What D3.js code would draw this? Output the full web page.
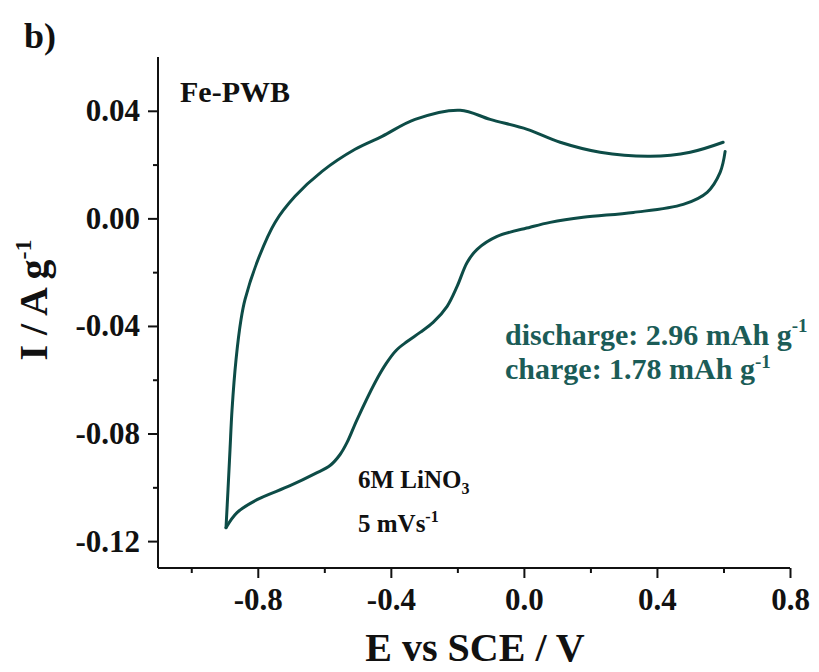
<!DOCTYPE html>
<html><head><meta charset="utf-8">
<script src="https://cdn.jsdelivr.net/npm/d3@7"></script>
<style>body{margin:0;background:#fff}svg{display:block}text{font-family:"Liberation Serif","Times New Roman",serif;font-weight:bold}</style>
</head><body><svg id="c" width="819" height="672"></svg>
<script>
// Forward (anodic) scan: potential E (V) and current I (A/g)
const fwdE = [-0.8955,-0.8895,-0.8835,-0.8774,-0.8654,-0.8504,-0.8383,-0.7992,-0.7481,-0.6880,-0.6068,-0.5075,-0.4263,-0.3271,-0.1917,-0.1015,0.010,0.109,0.229,0.380,0.500,0.599];
const fwdI = [-0.1150,-0.1008,-0.0860,-0.0711,-0.0525,-0.0376,-0.0301,-0.0153,-0.0015,0.0082,0.0175,0.0257,0.0305,0.0368,0.0402,0.0368,0.0331,0.0283,0.0246,0.0231,0.0246,0.0283];
// Reverse (cathodic) scan
const revE = [0.605,0.590,0.551,0.479,0.329,0.178,0.079,0.0188,-0.0805,-0.1406,-0.1707,-0.2008,-0.2308,-0.2729,-0.3120,-0.3511,-0.3842,-0.4143,-0.4474,-0.5015,-0.5316,-0.5526,-0.5827,-0.6278,-0.7030,-0.8023,-0.8624,-0.8955];
const revI = [0.0249,0.0171,0.0097,0.0052,0.0022,0.0004,-0.0015,-0.0033,-0.0067,-0.0115,-0.0164,-0.0253,-0.0327,-0.0387,-0.0424,-0.0458,-0.0491,-0.0540,-0.0610,-0.0748,-0.0833,-0.0878,-0.0919,-0.0949,-0.0994,-0.1046,-0.1094,-0.1150];
const xMajor = [-0.8,-0.4,0.0,0.4,0.8];
const xMinor = [-1.0,-0.6,-0.2,0.2,0.6];
const yMajor = [-0.12,-0.08,-0.04,0.00,0.04];
const yMinor = [-0.10,-0.06,-0.02,0.02];
const xDomain = [-1.1,0.8];
const yDomain = [-0.13,0.06];

const svg = d3.select('#c');
const L=158, R=790, T=57, B=568;
const x = d3.scaleLinear().domain(xDomain).range([L,R]);
const y = d3.scaleLinear().domain(yDomain).range([B,T]);
const ink = '#111';
const teal = '#0d4c47';
const fmt = f => d => d3.format(f)(d).replace('\u2212','-');

// axes
const gx = svg.append('g').attr('transform',`translate(0,${B})`);
gx.call(d3.axisBottom(x).tickValues(xMajor).tickSize(10).tickPadding(10).tickFormat(fmt('.1f')));
gx.append('g').call(d3.axisBottom(x).tickValues(xMinor).tickSize(5).tickFormat(''));
const gy = svg.append('g').attr('transform',`translate(${L},0)`);
gy.call(d3.axisLeft(y).tickValues(yMajor).tickSize(10).tickPadding(8).tickFormat(fmt('.2f')));
gy.append('g').call(d3.axisLeft(y).tickValues(yMinor).tickSize(5).tickFormat(''));
svg.selectAll('.domain').attr('stroke',ink).attr('stroke-width',2);
gx.selectAll('g.tick line').attr('stroke',ink).attr('stroke-width',2);
gy.selectAll('g.tick line').attr('stroke',ink).attr('stroke-width',2);
gx.selectAll('.domain').attr('d',`M${L},0H${R}`);
gy.selectAll('.domain').attr('d',`M0,${T}V${B}`);
svg.selectAll('g.tick text').attr('fill',ink).style('font-size','31px').style('font-family','"Liberation Serif",serif').style('font-weight','bold');

// curves
const line = d3.line().x(d=>x(d[0])).y(d=>y(d[1])).curve(d3.curveCatmullRom.alpha(0.5));
const fwd = fwdE.map((e,i)=>[e,fwdI[i]]);
const rev = revE.map((e,i)=>[e,revI[i]]);
[fwd,rev].forEach(p=>svg.append('path').attr('d',line(p)).attr('fill','none').attr('stroke',teal).attr('stroke-width',3).attr('stroke-linejoin','round').attr('stroke-linecap','round'));

// texts
svg.append('text').attr('x',24).attr('y',48).attr('fill',ink).style('font-size','36px').text('b)');
svg.append('text').attr('x',180).attr('y',102).attr('fill',ink).style('font-size','30px').text('Fe-PWB');
svg.append('text').attr('x',475).attr('y',661).attr('text-anchor','middle').attr('fill',ink).style('font-size','40px').text('E vs SCE / V');
const yl = svg.append('text').attr('transform','translate(47,300) rotate(-90)').attr('text-anchor','middle').attr('fill',ink).style('font-size','40px');
yl.append('tspan').text('I / A g');
yl.append('tspan').attr('dy',-16).style('font-size','24px').text('-1');

const t1 = svg.append('text').attr('x',505).attr('y',345).attr('fill','#1b5c57').style('font-size','30px');
t1.append('tspan').text('discharge: 2.96 mAh g');
t1.append('tspan').attr('dy',-13).style('font-size','19px').text('-1');
const t2 = svg.append('text').attr('x',505).attr('y',379).attr('fill','#1b5c57').style('font-size','30px');
t2.append('tspan').text('charge: 1.78 mAh g');
t2.append('tspan').attr('dy',-11).style('font-size','19px').text('-1');

const t3 = svg.append('text').attr('x',358).attr('y',488).attr('fill',ink).style('font-size','25px');
t3.append('tspan').text('6M LiNO');
t3.append('tspan').attr('dy',6).style('font-size','16px').text('3');
const t4 = svg.append('text').attr('x',358).attr('y',532).attr('fill',ink).style('font-size','25px');
t4.append('tspan').text('5 mVs');
t4.append('tspan').attr('dy',-10).style('font-size','16px').text('-1');
</script></body></html>
